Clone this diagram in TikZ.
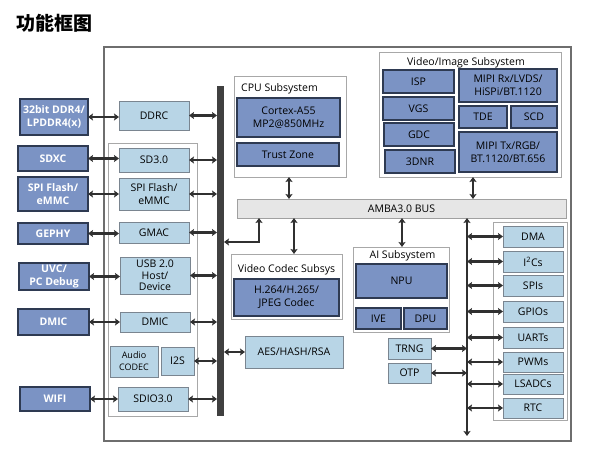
\documentclass[tikz,border=0pt]{standalone}
\usepackage{fontspec}
\setmainfont{Open Sans}
\newfontfamily\cjk{Noto Sans CJK SC}
\usetikzlibrary{arrows.meta,calc}
\definecolor{dkb}{HTML}{7B93C4}
\definecolor{dkbd}{HTML}{2E3A52}
\definecolor{ltb}{HTML}{B8D5E6}
\definecolor{ltbd}{HTML}{7A8590}
\definecolor{grpc}{HTML}{A8A8A8}
\definecolor{outc}{HTML}{6E6E6E}
\definecolor{ambac}{HTML}{E6E6E6}
\definecolor{ambabd}{HTML}{A0A0A0}
\definecolor{busc}{HTML}{404040}
\definecolor{arrc}{HTML}{303030}
% node from corners: style, x1, y1, x2, y2, name
\newcommand\blkbox[6]{\node[#1, minimum width={(#4)-(#2)}, minimum height={(#5)-(#3)}] (#6) at ({((#2)+(#4))/2},{((#3)+(#5))/2})}
\begin{document}
\begin{tikzpicture}[x=1pt,y=-1pt,
  box/.style={inner sep=0pt, outer sep=0pt, align=center, font=\fontsize{10.5}{13}\selectfont, line width=0.9pt},
  ext/.style={box, fill=dkb, draw=dkbd, text=white, line width=1.1pt, font=\bfseries\fontsize{10.5}{13}\selectfont},
  mod/.style={box, fill=ltb, draw=ltbd},
  sub/.style={box, fill=dkb, draw=dkbd, line width=1.1pt},
  grp/.style={box, fill=white, draw=grpc},
  lbl/.style={font=\fontsize{10.5}{13}\selectfont, inner sep=0pt},
  dbl/.style={draw=arrc, line width=2.2pt, {Stealth[length=5pt,width=7pt,inset=1pt]}-{Stealth[length=5pt,width=7pt,inset=1pt]}}
]
\useasboundingbox (0,0) rectangle (590,455);
% title
\node[anchor=west, inner sep=0pt, font=\cjk\bfseries\fontsize{19}{22}\selectfont] (title) at (16,23) {功能框图};
% outer box
\blkbox{box, draw=outc, line width=1.2pt}{104}{47}{571}{441}{outer} {};
% group boxes
\blkbox{grp}{108}{143}{197}{416}{lgrp} {};
\blkbox{grp}{493}{222}{567}{420}{rgrp} {};
\blkbox{grp}{234}{76}{346}{177}{cpu} {};
\blkbox{grp}{379}{52}{561}{177}{vis} {};
\blkbox{grp}{231}{254}{342}{319}{vcs} {};
\blkbox{grp}{353}{247}{449}{332}{ais} {};
% subsystem labels
\node[lbl, anchor=base west] (cpulbl) at (241,91) {CPU Subsystem};
\node[lbl, anchor=base] (vislbl) at (466,65) {Video/Image Subsystem};
\node[lbl, anchor=base] (vcslbl) at (286.5,272) {Video Codec Subsys};
\node[lbl, anchor=base] (aislbl) at (402.5,258) {AI Subsystem};
% left bus
\blkbox{box, fill=busc, line width=0pt}{217}{86}{224}{416}{bus} {};
% AMBA
\blkbox{box, fill=ambac, draw=ambabd}{237}{199}{566}{218}{amba} {AMBA3.0 BUS};
% external devices
\blkbox{ext}{20}{99}{88}{135}{ext1} {32bit DDR4/\\LPDDR4(x)};
\blkbox{ext}{18}{146}{88}{171}{ext2} {SDXC};
\blkbox{ext}{18}{177}{88}{211}{ext3} {SPI Flash/\\eMMC};
\blkbox{ext}{18}{223}{88}{244}{ext4} {GEPHY};
\blkbox{ext}{19}{263}{89}{290}{ext5} {UVC/\\PC Debug};
\blkbox{ext}{18}{309}{89}{335}{ext6} {DMIC};
\blkbox{ext}{20}{387}{90}{411}{ext7} {WIFI};
% inner left modules
\blkbox{mod}{119}{101}{189}{130}{ddrc} {DDRC};
\blkbox{mod}{119}{148}{189}{172}{sd3} {SD3.0};
\blkbox{mod}{119}{178}{189}{210}{spi} {SPI Flash/\\eMMC};
\blkbox{mod}{119}{222}{189}{243}{gmac} {GMAC};
\blkbox{mod, font=\fontsize{10.5}{11.5}\selectfont}{120}{257}{190}{294}{usb} {USB 2.0\\Host/\\Device};
\blkbox{mod}{120}{312}{190}{332}{dmic} {DMIC};
\blkbox{mod, font=\fontsize{9}{12}\selectfont}{110}{346}{158}{377}{acodec} {Audio\\CODEC};
\blkbox{mod}{161}{347}{194}{375}{i2s} {I2S};
\blkbox{mod}{118}{387}{188}{411}{sdio} {SDIO3.0};
% CPU subsystem
\blkbox{sub}{237}{98}{340}{137}{cortex} {Cortex-A55\\MP2@850MHz};
\blkbox{sub}{237}{143}{339}{166}{trust} {Trust Zone};
% video/image subsystem
\blkbox{sub}{383}{70}{454}{93}{isp} {ISP};
\blkbox{sub}{383}{97}{454}{120}{vgs} {VGS};
\blkbox{sub}{384}{123}{454}{146}{gdc} {GDC};
\blkbox{sub}{385}{150}{455}{173}{dnr} {3DNR};
\blkbox{sub}{459}{69}{557}{102}{mipirx} {MIPI Rx/LVDS/\\HiSPi/BT.1120};
\blkbox{sub}{459}{106}{507}{128}{tde} {TDE};
\blkbox{sub}{511}{106}{557}{128}{scd} {SCD};
\blkbox{sub}{459}{132}{557}{172}{mipitx} {MIPI Tx/RGB/\\BT.1120/BT.656};
% video codec
\blkbox{sub}{234}{279}{339}{316}{codec} {H.264/H.265/\\JPEG Codec};
% AES
\blkbox{mod}{245}{336}{343}{368}{aes} {AES/HASH/RSA};
% AI subsystem
\blkbox{sub}{356}{264}{447}{298}{npu} {NPU};
\blkbox{sub}{356}{308}{401}{329}{ive} {IVE};
\blkbox{sub}{404}{308}{447}{329}{dpu} {DPU};
% TRNG / OTP
\blkbox{mod}{388}{338}{431}{359}{trng} {TRNG};
\blkbox{mod}{388}{363}{431}{383}{otp} {OTP};
% right peripherals
\blkbox{mod}{503}{226}{563}{247}{dma} {DMA};
\blkbox{mod}{503}{251}{563}{272}{i2c} {I\textsuperscript{2}Cs};
\blkbox{mod}{503}{275}{563}{296}{spis} {SPIs};
\blkbox{mod}{503}{301}{563}{322}{gpio} {GPIOs};
\blkbox{mod}{503}{327}{563}{348}{uart} {UARTs};
\blkbox{mod}{503}{352}{563}{372}{pwm} {PWMs};
\blkbox{mod}{503}{374}{563}{394}{lsadc} {LSADCs};
\blkbox{mod}{503}{398}{563}{418}{rtc} {RTC};
% helper coordinates
\coordinate (rb) at (467,436);
\coordinate (xcpu) at (289,0);
\coordinate (xvis) at (473,0);
\coordinate (xl) at (259,242);
\coordinate (xvc) at (294,0);
\coordinate (xai) at (402,0);
% connectors: external <-> modules
\foreach \a/\b in {ext1/ddrc,ext2/sd3,ext3/spi,ext4/gmac,ext5/usb,ext6/dmic,ext7/sdio}
  {\draw[dbl] (\a.east) -- (\a.east -| \b.west);}
% modules <-> left bus
\foreach \n in {ddrc,sd3,spi,gmac,usb,dmic,i2s,sdio}
  {\draw[dbl] (\n.east) -- (\n.east -| bus.west);}
\draw[dbl] (bus.east |- aes.west) -- (aes.west);
% AMBA connections
\draw[dbl] (cpu.south -| xcpu) -- (amba.north -| xcpu);
\draw[dbl] (vis.south -| xvis) -- (amba.north -| xvis);
\draw[dbl] (amba.south -| xl) -- (xl) -- (xl -| bus.east);
\draw[dbl] (amba.south -| xvc) -- (vcs.north -| xvc);
\draw[dbl] (amba.south -| xai) -- (ais.north -| xai);
% right bus
\draw[dbl, line width=2pt] (rb) -- (rb |- amba.south);
\foreach \n in {dma,i2c,spis,gpio,uart,pwm,lsadc,rtc}
  {\draw[dbl] (\n.west -| rb) -- (\n.west);}
\draw[dbl] (trng.east) -- (trng.east -| rb);
\draw[dbl] (otp.east) -- (otp.east -| rb);
\end{tikzpicture}
\end{document}
